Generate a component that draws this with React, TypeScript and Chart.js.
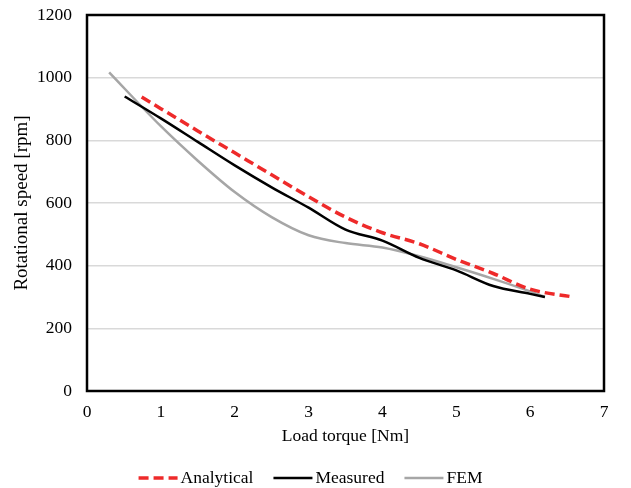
import React, { useEffect, useRef } from "react";
import { Chart, registerables } from "chart.js";

Chart.register(...registerables);

const analyticalX = [0.74, 1.5, 2, 2.5, 3, 3.5, 4, 4.5, 5, 5.5, 6, 6.58];
const analyticalY = [938, 830, 760, 690, 620, 555, 505, 470, 420, 375, 325, 300];
const measuredX = [0.51, 1, 1.5, 2, 2.5, 3, 3.5, 4, 4.5, 5, 5.5, 6, 6.2];
const measuredY = [940, 870, 795, 720, 650, 585, 515, 480, 425, 385, 335, 310, 300];
const femX = [0.3, 1, 1.5, 2, 2.5, 3, 3.5, 4, 4.5, 5, 5.5, 6, 6.2];
const femY = [1017, 845, 735, 635, 555, 497, 472, 458, 430, 395, 358, 318, 300];

const seriesNames = ["Analytical", "Measured", "FEM"];
const xTicks = [0, 1, 2, 3, 4, 5, 6, 7];
const yTicks = [0, 200, 400, 600, 800, 1000, 1200];

const pts = (xs: number[], ys: number[]) => xs.map((x, i) => ({ x, y: ys[i] }));

const FONT = "'Liberation Serif', 'Times New Roman', serif";
const FS = 17.5;

export default function App() {
  const ref = useRef<HTMLCanvasElement | null>(null);
  useEffect(() => {
    if (!ref.current) return;
    const frame = {
      id: "frame",
      afterDatasetsDraw(chart: any) {
        const { ctx, chartArea: a } = chart;
        ctx.save();
        ctx.strokeStyle = "#000";
        ctx.lineWidth = 2.5;
        ctx.strokeRect(a.left, a.top, a.right - a.left, a.bottom - a.top);
        ctx.restore();
      },
    };
    const customLegend = {
      id: "customLegend",
      afterDraw(chart: any) {
        const { ctx } = chart;
        const lineLen = 39;
        const textGap = 3;
        const itemGap = 20;
        ctx.save();
        ctx.font = `${FS}px ${FONT}`;
        const items = chart.data.datasets.map((d: any) => ({
          ds: d,
          w: lineLen + textGap + ctx.measureText(d.label).width,
        }));
        const total = items.reduce((s: number, it: any) => s + it.w, 0) + itemGap * (items.length - 1);
        let x = (chart.width - total) / 2 - 5;
        const y = 478;
        items.forEach((it: any) => {
          const d = it.ds;
          ctx.beginPath();
          ctx.strokeStyle = d.borderColor;
          ctx.lineWidth = d.borderWidth;
          ctx.setLineDash(d.borderDash || []);
          ctx.moveTo(x, y);
          ctx.lineTo(x + lineLen, y);
          ctx.stroke();
          ctx.setLineDash([]);
          ctx.fillStyle = "#000";
          ctx.textBaseline = "middle";
          ctx.textAlign = "left";
          ctx.fillText(d.label, x + lineLen + textGap, y);
          x += it.w + itemGap;
        });
        ctx.restore();
      },
    };
    const chart = new Chart(ref.current, {
      type: "line",
      data: {
        datasets: [
          {
            label: seriesNames[0],
            data: pts(analyticalX, analyticalY),
            borderColor: "#ee2a2a",
            backgroundColor: "#ee2a2a",
            borderWidth: 3.5,
            borderDash: [10, 5],
            pointRadius: 0,
            cubicInterpolationMode: "monotone",
          },
          {
            label: seriesNames[1],
            data: pts(measuredX, measuredY),
            borderColor: "#000000",
            backgroundColor: "#000000",
            borderWidth: 2.5,
            pointRadius: 0,
            cubicInterpolationMode: "monotone",
          },
          {
            label: seriesNames[2],
            data: pts(femX, femY),
            borderColor: "#a6a6a6",
            backgroundColor: "#a6a6a6",
            borderWidth: 2.5,
            pointRadius: 0,
            cubicInterpolationMode: "monotone",
          },
        ],
      },
      options: {
        animation: false,
        responsive: false,
        layout: { padding: { left: 7, top: 15, right: 27, bottom: 37 } },
        plugins: {
          tooltip: { enabled: false },
          legend: { display: false },
        },
        scales: {
          x: {
            type: "linear",
            min: 0,
            max: 7,
            afterBuildTicks: (s: any) => {
              s.ticks = xTicks.map((v) => ({ value: v }));
            },
            afterFit: (s: any) => {
              s.height = 60;
              s.paddingLeft = 0;
              s.paddingRight = 0;
            },
            grid: { display: false, drawTicks: false },
            border: { display: false },
            ticks: {
              color: "#000",
              padding: 11,
              font: { family: FONT, size: FS },
              callback: (v: any) => String(v),
            },
            title: {
              display: true,
              text: "Load torque [Nm]",
              color: "#000",
              font: { family: FONT, size: FS },
              padding: { top: 4, bottom: 4 },
            },
          },
          y: {
            min: 0,
            max: 1200,
            afterBuildTicks: (s: any) => {
              s.ticks = yTicks.map((v) => ({ value: v }));
            },
            afterFit: (s: any) => {
              s.width = 80;
              s.paddingTop = 0;
              s.paddingBottom = 0;
            },
            grid: { color: "#d9d9d9", lineWidth: 1.5, drawTicks: false },
            border: { display: false },
            ticks: {
              color: "#000",
              padding: 15,
              font: { family: FONT, size: FS },
              callback: (v: any) => String(v),
            },
            title: {
              display: true,
              text: "Rotational speed [rpm]",
              color: "#000",
              font: { family: FONT, size: 19 },
              padding: { top: 4, bottom: 4 },
            },
          },
        },
      },
      plugins: [frame, customLegend],
    } as any);
    return () => chart.destroy();
  }, []);
  return (
    <div style={{ position: "fixed", left: 0, top: 0, width: 631, height: 488, background: "#fff" }}>
      <canvas ref={ref} width={631} height={488} />
    </div>
  );
}
